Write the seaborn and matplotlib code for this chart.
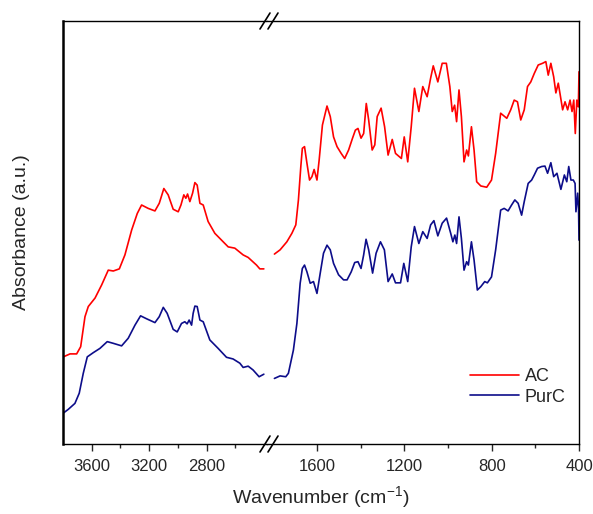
import pandas as pd
import matplotlib
matplotlib.use("Agg")
import matplotlib.pyplot as plt
from matplotlib.lines import Line2D
import seaborn as sns

# high wavenumber segment (3800-2400 cm-1)
ac_wn_hi = [3798, 3751, 3705, 3677, 3647, 3624, 3577, 3531, 3485, 3450, 3408, 3369, 3322, 3283,
            3253, 3207, 3160, 3130, 3098, 3068, 3033, 2998, 2979, 2959, 2945, 2933, 2917, 2898,
            2882, 2866, 2847, 2824, 2790, 2743, 2685, 2650, 2604, 2546, 2511, 2453, 2430, 2402]
ac_hi = [20.6, 21.3, 21.3, 23.0, 30.1, 32.5, 34.5, 37.6, 41.1, 40.9, 41.4, 44.7, 50.6, 54.5,
         56.5, 55.7, 55.1, 56.9, 60.4, 58.9, 55.5, 54.9, 56.5, 58.9, 58.1, 59.1, 57.3, 59.3,
         61.8, 61.2, 56.9, 56.5, 52.6, 49.8, 47.8, 46.6, 46.3, 44.7, 44.1, 42.3, 41.4, 41.4]

purc_wn_hi = [3798, 3763, 3717, 3687, 3659, 3631, 3589, 3543, 3492, 3450, 3392, 3346, 3299, 3260,
              3218, 3160, 3130, 3102, 3075, 3033, 3005, 2975, 2952, 2936, 2922, 2905, 2894, 2882,
              2866, 2847, 2824, 2778, 2720, 2662, 2616, 2569, 2546, 2511, 2477, 2435, 2402]
purc_hi = [7.3, 8.2, 9.6, 12.0, 16.7, 20.6, 21.6, 22.6, 24.2, 23.8, 23.2, 25.0, 28.1, 30.3,
           29.6, 28.7, 30.1, 32.3, 30.9, 27.1, 26.5, 28.5, 28.9, 28.4, 29.3, 28.1, 30.9, 32.6,
           32.5, 29.3, 28.9, 24.6, 22.6, 20.5, 20.1, 19.1, 18.1, 18.4, 17.5, 15.9, 16.5]

# low wavenumber segment (1800-400 cm-1)
ac_wn_lo = [1796, 1770, 1739, 1716, 1698, 1686, 1675, 1668, 1658, 1647, 1635, 1624, 1614, 1601,
            1591, 1576, 1555, 1540, 1525, 1509, 1490, 1474, 1456, 1438, 1425, 1413, 1399, 1387,
            1375, 1364, 1348, 1336, 1325, 1307, 1291, 1275, 1256, 1241, 1223, 1214, 1201, 1185,
            1169, 1154, 1134, 1116, 1096, 1080, 1068, 1047, 1027, 1008, 992, 981, 970, 961,
            950, 939, 927, 915, 907, 893, 881, 869, 850, 823, 801, 782, 759, 731,
            713, 697, 682, 667, 651, 636, 621, 605, 587, 567, 552, 541, 529, 516,
            506, 495, 486, 475, 464, 452, 441, 432, 424, 417, 410, 403, 400]
ac_lo = [44.9, 45.9, 47.8, 49.8, 51.8, 57.7, 65.6, 69.9, 70.3, 66.4, 62.4, 63.2, 64.9, 62.4,
         67.1, 75.4, 79.9, 77.4, 72.6, 70.3, 68.7, 67.5, 69.5, 72.3, 74.2, 74.6, 72.3, 73.4,
         80.5, 76.6, 69.5, 70.7, 77.4, 79.4, 75.0, 68.3, 72.0, 68.7, 67.9, 67.5, 72.6, 66.7,
         75.0, 84.1, 78.6, 84.5, 82.1, 86.5, 89.4, 85.6, 90.0, 90.0, 84.5, 78.6, 80.1, 76.2,
         83.7, 77.4, 66.7, 69.5, 68.1, 75.0, 69.5, 62.0, 61.0, 60.7, 62.4, 68.7, 78.2, 77.0,
         79.0, 81.3, 80.9, 76.6, 79.0, 84.5, 85.6, 87.6, 89.6, 90.0, 90.4, 87.2, 90.0, 86.8,
         83.0, 85.3, 82.5, 79.0, 80.9, 79.0, 81.3, 78.6, 81.3, 73.4, 81.3, 79.7, 88.0]

purc_wn_lo = [1796, 1770, 1744, 1732, 1709, 1693, 1678, 1668, 1658, 1647, 1632, 1617, 1601, 1586,
              1571, 1555, 1540, 1525, 1502, 1479, 1463, 1444, 1428, 1413, 1399, 1387, 1376, 1364,
              1346, 1330, 1310, 1292, 1275, 1256, 1241, 1218, 1203, 1185, 1169, 1154, 1134, 1116,
              1096, 1080, 1065, 1047, 1027, 1007, 988, 978, 969, 961, 950, 939, 927, 915,
              907, 893, 881, 866, 850, 832, 820, 801, 782, 759, 743, 725, 709, 694,
              679, 663, 651, 633, 617, 605, 590, 571, 556, 544, 529, 516, 501, 483,
              467, 456, 447, 437, 426, 418, 414, 406, 402, 400]
purc_lo = [15.5, 16.1, 15.9, 16.7, 22.2, 28.5, 38.0, 41.5, 42.3, 40.7, 38.0, 38.4, 35.6, 40.4,
           45.1, 47.0, 45.9, 42.7, 40.0, 38.8, 38.8, 40.7, 42.9, 43.1, 41.5, 44.7, 48.4, 45.9,
           40.4, 45.1, 47.8, 45.9, 38.4, 40.2, 38.1, 38.1, 42.7, 38.4, 46.6, 51.4, 47.4, 50.2,
           48.6, 51.8, 52.8, 49.2, 52.2, 53.4, 49.8, 47.8, 49.4, 47.4, 53.7, 48.6, 41.1, 43.1,
           42.3, 47.8, 43.5, 36.4, 37.2, 38.4, 38.1, 39.5, 45.9, 55.3, 55.7, 55.1, 56.5, 57.7,
           56.9, 54.1, 57.3, 61.6, 62.4, 63.6, 65.2, 65.6, 65.7, 64.0, 66.5, 63.2, 64.0, 60.2,
           63.6, 62.0, 65.6, 62.4, 62.4, 61.6, 54.9, 59.3, 55.7, 48.2]

samples = ["AC", "PurC"]
colors = {"AC": "#ff0000", "PurC": "#0d0d8a"}

df_hi = pd.concat([
    pd.DataFrame({"wn": ac_wn_hi, "A": ac_hi, "sample": "AC"}),
    pd.DataFrame({"wn": purc_wn_hi, "A": purc_hi, "sample": "PurC"}),
])
df_lo = pd.concat([
    pd.DataFrame({"wn": ac_wn_lo, "A": ac_lo, "sample": "AC"}),
    pd.DataFrame({"wn": purc_wn_lo, "A": purc_lo, "sample": "PurC"}),
])

sns.set_style("ticks")
plt.rcParams["font.family"] = ["Liberation Sans", "DejaVu Sans"]
plt.rcParams["mathtext.default"] = "regular"

W, H = 593, 514
fig = plt.figure(figsize=(W / 100, H / 100), dpi=100)
ax1 = fig.add_axes([63 / W, 70 / H, 204 / W, 423 / H])
ax2 = fig.add_axes([267 / W, 70 / H, 312 / W, 423 / H])

sns.lineplot(data=df_hi, x="wn", y="A", hue="sample", hue_order=samples, palette=colors,
             estimator=None, sort=False, lw=1.2, ax=ax1, legend=False)
sns.lineplot(data=df_lo, x="wn", y="A", hue="sample", hue_order=samples, palette=colors,
             estimator=None, sort=False, lw=1.2, ax=ax2)

ax1.set_xlim(3800, 2380)
ax2.set_xlim(1830, 400)
for ax in (ax1, ax2):
    ax.set_ylim(0, 100)
    ax.set_yticks([])
    ax.set_xlabel("")
    ax.set_ylabel("")
    ax.tick_params(axis="x", which="major", length=5, width=1, labelsize=12, pad=6)
    ax.tick_params(axis="x", which="minor", length=3, width=1)
    for s in ax.spines.values():
        s.set_linewidth(1.0)
        s.set_color("black")

ax1.set_xticks([3600, 3200, 2800])
ax1.set_xticks([3400, 3000, 2600], minor=True)
ax2.set_xticks([1600, 1200, 800, 400])
ax2.set_xticks([1400, 1000, 600], minor=True)

ax1.spines["right"].set_visible(False)
ax1.spines["left"].set_linewidth(1.8)
ax2.spines["left"].set_visible(False)
ax2.spines["right"].set_visible(True)
ax2.spines["top"].set_visible(True)

leg = ax2.legend(loc="center left", bbox_to_anchor=(0.6, 0.135), frameon=False,
                 fontsize=13, handlelength=2.7, handletextpad=0.3, labelspacing=0.2)
for line in leg.get_lines():
    line.set_linewidth(1.2)

# axis break marks
for yb in (21, 444):
    for xb in (265, 273):
        fig.add_artist(Line2D([(xb - 5) / W, (xb + 5) / W],
                              [1 - (yb + 8) / H, 1 - (yb - 8) / H],
                              color="black", lw=1.2))

fig.text(321 / W, 1 - 497 / H, "Wavenumber (cm$^{-1}$)", ha="center", va="center", fontsize=14)
fig.text(22 / W, 1 - 232 / H, "Absorbance (a.u.)", ha="center", va="center",
         rotation=90, fontsize=14)

fig.savefig("out.png", dpi=100)
